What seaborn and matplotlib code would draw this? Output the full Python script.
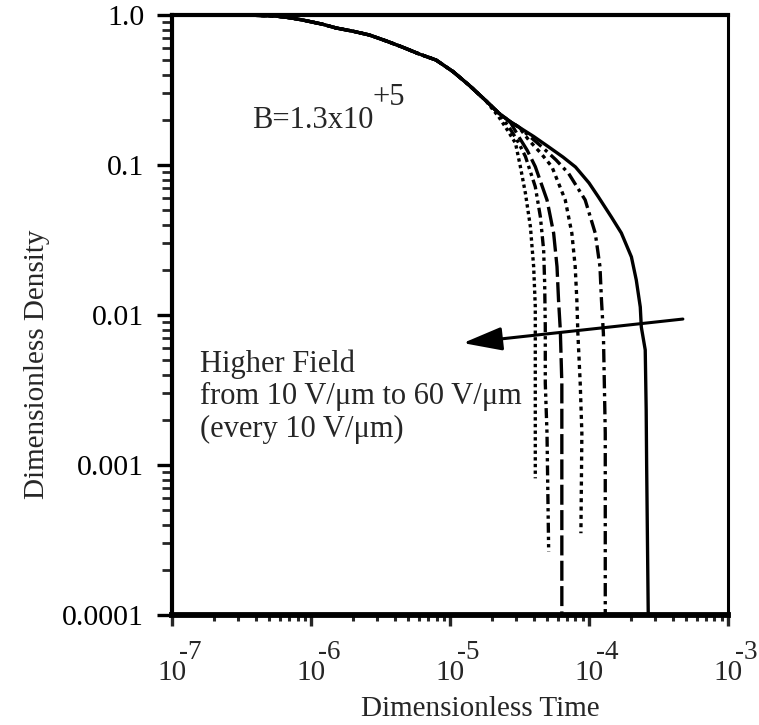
import matplotlib
matplotlib.use("Agg")
import matplotlib.pyplot as plt
import pandas as pd
import seaborn as sns
from matplotlib.ticker import FixedLocator, FixedFormatter, LogLocator, NullFormatter

# Decay of the dimensionless density; all fields share the early part
common_t = [2.52e-7, 4.0e-7, 5.5e-7, 7.0e-7, 8.7e-7, 1.2e-6, 1.52e-6, 2.0e-6, 2.63e-6,
            3.5e-6, 4.53e-6, 6.0e-6, 7.94e-6, 1.05e-5, 1.37e-5, 1.8e-5, 2.24e-5, 2.7e-5, 3.13e-5]
common_n = [1.0, 0.995, 0.985, 0.96, 0.926, 0.87, 0.819, 0.78, 0.736,
            0.67, 0.612, 0.55, 0.501, 0.42, 0.341, 0.27, 0.222, 0.195, 0.179]

# Late part for each applied field (V/um)
tail_10_t = [4.0e-5, 5.13e-5, 6.5e-5, 8.0e-5, 1.0e-4, 1.17e-4, 1.45e-4, 1.71e-4, 2.02e-4,
             2.19e-4, 2.34e-4, 2.38e-4, 2.54e-4, 2.58e-4, 2.6e-4, 2.67e-4]
tail_10_n = [0.155, 0.132, 0.113, 0.097, 0.076, 0.0612, 0.045, 0.0352, 0.0244,
             0.0171, 0.0113, 0.00832, 0.00585, 0.00233, 0.001, 1.0e-4]
tail_20_t = [4.59e-5, 5.8e-5, 7.13e-5, 9.39e-5, 1.11e-4, 1.20e-4, 1.23e-4, 1.27e-4, 1.29e-4, 1.31e-4, 1.31e-4]
tail_20_n = [0.132, 0.108, 0.0880, 0.0585, 0.0351, 0.0210, 0.0126, 0.00755, 0.00351, 0.00163, 1.0e-4]
tail_30_t = [3.68e-5, 4.5e-5, 5.41e-5, 6.75e-5, 7.53e-5, 7.96e-5, 8.18e-5, 8.32e-5, 8.65e-5, 8.89e-5, 8.75e-5]
tail_30_n = [0.147, 0.12, 0.0975, 0.0585, 0.0351, 0.0210, 0.0126, 0.00755, 0.00351, 0.00163, 0.000351]
tail_40_t = [3.13e-5, 3.6e-5, 4.11e-5, 4.99e-5, 5.57e-5, 5.89e-5, 6.04e-5, 6.22e-5, 6.38e-5, 6.38e-5]
tail_40_n = [0.154, 0.125, 0.0975, 0.0585, 0.0351, 0.0210, 0.0126, 0.00794, 0.00351, 1.0e-4]
tail_50_t = [2.65e-5, 3.1e-5, 3.49e-5, 4.11e-5, 4.47e-5, 4.72e-5, 4.80e-5, 4.85e-5, 4.85e-5, 4.99e-5, 5.13e-5]
tail_50_n = [0.180, 0.142, 0.114, 0.0717, 0.0452, 0.0271, 0.0163, 0.00836, 0.00351, 0.00163, 0.000264]
tail_60_t = [2.24e-5, 2.6e-5, 2.96e-5, 3.21e-5, 3.49e-5, 3.79e-5, 4.00e-5, 4.11e-5, 4.11e-5, 4.11e-5]
tail_60_n = [0.210, 0.17, 0.140, 0.0975, 0.0648, 0.0388, 0.0210, 0.0114, 0.00351, 0.000815]

fields = [10, 20, 30, 40, 50, 60]
tails = {
    10: (tail_10_t, tail_10_n),
    20: (tail_20_t, tail_20_n),
    30: (tail_30_t, tail_30_n),
    40: (tail_40_t, tail_40_n),
    50: (tail_50_t, tail_50_n),
    60: (tail_60_t, tail_60_n),
}

y_ticks = [1.0, 0.1, 0.01, 0.001, 0.0001]
y_tick_labels = ["1.0", "0.1", "0.01", "0.001", "0.0001"]
x_exponents = [-7, -6, -5, -4, -3]

# Arrow marking the direction of increasing field
arrow_start = (4.74e-4, 0.0094)
arrow_end = (1.24e-5, 0.0065)

rows = []
for f in fields:
    tt, nn = tails[f]
    ts = [t for t in common_t if t < tt[0]] + list(tt)
    ns = [n for t, n in zip(common_t, common_n) if t < tt[0]] + list(nn)
    for i, (t, n) in enumerate(zip(ts, ns)):
        rows.append({"field": f, "t": t, "n": n, "i": i})
df = pd.DataFrame(rows)

dash_styles = {
    10: "",
    20: (4, 1.4, 1, 1.4),
    30: (1.2, 1.3),
    40: (6, 1.6),
    50: (3, 1.2, 1, 1.2, 1, 1.2),
    60: (1, 1),
}

sns.set_theme(style="white")
plt.rcParams["font.family"] = ["Liberation Serif", "DejaVu Serif"]
plt.rcParams["lines.solid_capstyle"] = "butt"

fig = plt.figure(figsize=(7.59, 7.25), dpi=100)
ax = fig.add_axes([0.2266, 0.1517, 0.7325, 0.8276])

sns.lineplot(data=df, x="t", y="n", style="field", dashes=dash_styles,
             color="black", linewidth=2.4, sort=False, estimator=None,
             legend=False, ax=ax)

ax.set_xscale("log")
ax.set_yscale("log")
ax.set_xlim(1e-7, 1e-3)
ax.set_ylim(1e-4, 1.0)

for side, lw in [("left", 3.0), ("bottom", 4.2), ("top", 3.0), ("right", 2.2)]:
    ax.spines[side].set_visible(True)
    ax.spines[side].set_linewidth(lw)
    ax.spines[side].set_color("black")

ax.yaxis.set_major_locator(FixedLocator(y_ticks))
ax.yaxis.set_major_formatter(FixedFormatter(y_tick_labels))
ax.yaxis.set_minor_locator(LogLocator(base=10, subs=range(2, 10)))
ax.yaxis.set_minor_formatter(NullFormatter())
ax.xaxis.set_major_locator(FixedLocator([10.0 ** k for k in x_exponents]))
ax.xaxis.set_major_formatter(NullFormatter())
ax.xaxis.set_minor_locator(LogLocator(base=10, subs=range(2, 10)))
ax.xaxis.set_minor_formatter(NullFormatter())

ax.tick_params(axis="y", which="major", direction="out", length=11, width=2.4,
               pad=9, labelsize=21.5, colors="black", left=True)
ax.tick_params(axis="y", which="minor", direction="out", length=7, width=2.0, left=True)
ax.tick_params(axis="x", which="major", direction="out", length=8, width=2.4, bottom=True)
ax.tick_params(axis="x", which="minor", direction="out", length=4.5, width=2.2, bottom=True)

# Power-of-ten labels on the time axis
xt = ax.get_xaxis_transform()
for k in x_exponents:
    ax.annotate("10", xy=(10.0 ** k, 0), xycoords=xt, xytext=(0, -47),
                textcoords="offset points", ha="center", va="baseline",
                fontsize=21, annotation_clip=False)
    ax.annotate(f"-{abs(k)}", xy=(10.0 ** k, 0), xycoords=xt, xytext=(5, -32),
                textcoords="offset points", ha="left", va="baseline",
                fontsize=19.5, annotation_clip=False)

ax.set_xlabel("Dimensionless Time", fontsize=21)
ax.set_ylabel("Dimensionless Density", fontsize=21)
ax.xaxis.set_label_coords(0.554, -0.135)
ax.yaxis.set_label_coords(-0.22, 0.418)

ax.text(0.144, 0.812, "B=1.3x10", transform=ax.transAxes, fontsize=22,
        ha="left", va="baseline")
ax.text(0.3615, 0.85, "+5", transform=ax.transAxes, fontsize=22,
        ha="left", va="baseline")

for j, line in enumerate(["Higher Field", "from 10 V/\u03bcm to 60 V/\u03bcm",
                          "(every 10 V/\u03bcm)"]):
    ax.text(0.05, 0.405 - 0.054 * j, line, transform=ax.transAxes, fontsize=22,
            ha="left", va="baseline")

ax.annotate("", xy=arrow_end, xytext=arrow_start,
            arrowprops=dict(arrowstyle="-|>,head_length=1.2,head_width=0.36",
                            mutation_scale=20, lw=2.2, color="black",
                            shrinkA=0, shrinkB=0))

fig.savefig("out.png", dpi=100, facecolor="white")
